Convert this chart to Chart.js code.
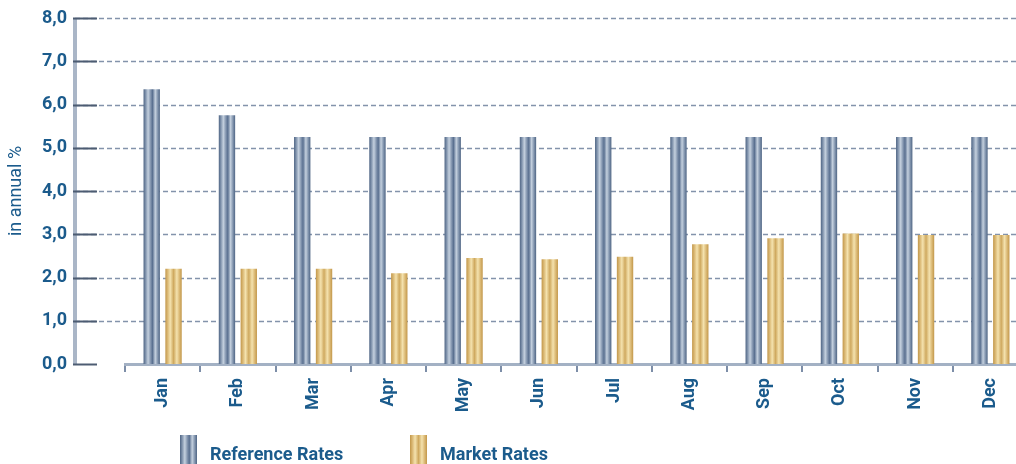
<!DOCTYPE html>
<html>
<head>
<meta charset="utf-8">
<script src="https://cdn.jsdelivr.net/npm/chart.js@4.4.1/dist/chart.umd.min.js"></script>
<style>
  html, body { margin: 0; padding: 0; background: #fff; overflow: hidden; }
  #wrap   { position: relative; width: 1028px; height: 464px; }
  .item   { position: absolute; top: 435px; display: flex; align-items: flex-start; white-space: nowrap;
            font: bold 18px Roboto, sans-serif; color: #1b5b8c; }
  .item canvas { display: block; }
  .item span   { margin-left: 13px; line-height: 22px; margin-top: 8px; }
</style>
</head>
<body>
<div id="wrap">
  <canvas id="rateChart"></canvas>
  <div class="item" style="left:180px"><canvas id="swRef" width="17" height="29"></canvas><span>Reference Rates</span></div>
  <div class="item" style="left:410px"><canvas id="swMkt" width="17" height="29"></canvas><span>Market Rates</span></div>
</div>
<script>
const MONTHS          = ['Jan', 'Feb', 'Mar', 'Apr', 'May', 'Jun', 'Jul', 'Aug', 'Sep', 'Oct', 'Nov', 'Dec'];
const REFERENCE_RATES = [6.35, 5.75, 5.25, 5.25, 5.25, 5.25, 5.25, 5.25, 5.25, 5.25, 5.25, 5.25];
const MARKET_RATES    = [2.20, 2.20, 2.20, 2.10, 2.45, 2.42, 2.48, 2.77, 2.91, 3.02, 2.98, 2.98];
const Y_TICK_LABELS   = ['0,0', '1,0', '2,0', '3,0', '4,0', '5,0', '6,0', '7,0', '8,0'];

const TEXT_COLOR = '#1b5b8c';
const BLUE_STOPS = [[0, '#4f6584'], [0.12, '#7d90aa'], [0.28, '#c4d0de'], [0.45, '#7c8faa'],
                    [0.55, '#5a7090'], [0.72, '#c4d0de'], [0.88, '#7d90aa'], [1, '#4f6584']];
const GOLD_STOPS = [[0, '#c2974a'], [0.15, '#dcbb78'], [0.3, '#f4e2ae'], [0.5, '#cfa95f'],
                    [0.7, '#f4e2ae'], [0.85, '#dcbb78'], [1, '#c2974a']];

/** horizontal "cylinder" gradient across a bar */
function barFill(ctx, x0, x1, stops) {
  const g = ctx.createLinearGradient(x0, 0, x1, 0);
  stops.forEach(([o, c]) => g.addColorStop(o, c));
  return g;
}

/* legend swatches */
[['swRef', BLUE_STOPS], ['swMkt', GOLD_STOPS]].forEach(([id, stops]) => {
  const c = document.getElementById(id).getContext('2d');
  c.fillStyle = barFill(c, 0, 17, stops);
  c.fillRect(0, 0, 17, 29);
});

/* y axis line, dashed grid and short dark ticks, drawn from left of the plot */
const axisDecor = {
  id: 'axisDecor',
  beforeDatasetsDraw(chart) {
    const { ctx, chartArea } = chart;
    const y     = chart.scales.y;
    const axisX = chartArea.left - 50;
    ctx.save();
    ctx.strokeStyle = '#aab6c7';
    ctx.lineWidth   = 4;
    ctx.beginPath();
    ctx.moveTo(axisX, y.top);
    ctx.lineTo(axisX, y.bottom);
    ctx.stroke();

    y.ticks.forEach((t) => {
      const py = Math.round(y.getPixelForValue(t.value)) + 0.5;
      if (t.value > 0) {
        ctx.strokeStyle = '#8393ab';
        ctx.lineWidth   = 1.5;
        ctx.setLineDash([5, 3]);
        ctx.beginPath();
        ctx.moveTo(axisX, py);
        ctx.lineTo(chartArea.right, py);
        ctx.stroke();
      }
      ctx.setLineDash([]);
      ctx.strokeStyle = '#4d5c72';
      ctx.lineWidth   = 2;
      ctx.beginPath();
      ctx.moveTo(axisX - 2, py);
      ctx.lineTo(axisX + 22, py);
      ctx.stroke();
    });
    ctx.restore();
  },
};

/* give each bar its striped gradient, based on where the library placed it */
const barShading = {
  id: 'barShading',
  beforeDatasetsDraw(chart) {
    const ctx = chart.ctx;
    chart.data.datasets.forEach((ds, i) => {
      const stops = i === 0 ? BLUE_STOPS : GOLD_STOPS;
      chart.getDatasetMeta(i).data.forEach((el) => {
        const x0 = el.x - el.width / 2;
        el.options = Object.assign({}, el.options, {
          backgroundColor: barFill(ctx, x0, x0 + el.width, stops),
        });
      });
    });
  },
};

const tickFont = { family: 'Roboto', size: 18, weight: 'bold' };

new Chart(document.getElementById('rateChart'), {
  type: 'bar',
  data: {
    labels: MONTHS,
    datasets: [
      { label: 'Reference Rates', data: REFERENCE_RATES, backgroundColor: '#8a9bb3' },
      { label: 'Market Rates',    data: MARKET_RATES,    backgroundColor: '#e0c485' },
    ],
  },
  options: {
    responsive:          true,
    maintainAspectRatio: false,
    animation:           false,
    layout:   { padding: { top: 18, left: 0, right: 0, bottom: 0 } },
    datasets: { bar: { barPercentage: 0.75, categoryPercentage: 0.58, borderWidth: 0 } },
    plugins: {
      legend:  { display: false },
      tooltip: { enabled: false },
    },
    scales: {
      x: {
        grid:   { drawOnChartArea: false, drawTicks: true, tickLength: 8, color: '#7d8ea8', lineWidth: 2, offset: true },
        border: { display: true, color: '#a3b1c4', width: 3 },
        ticks:  { color: TEXT_COLOR, font: tickFont, minRotation: 90, maxRotation: 90, padding: 6, autoSkip: false },
        afterFit: (s) => { s.height = 100; },
      },
      y: {
        min: 0,
        max: 8,
        grid:   { display: false, drawTicks: false, tickLength: 0 },
        border: { display: false },
        ticks:  {
          stepSize: 1,
          padding:  58,
          color:    TEXT_COLOR,
          font:     tickFont,
          callback: (v) => Y_TICK_LABELS[v],
        },
        title: {
          display: true,
          text:    'in annual %',
          color:   TEXT_COLOR,
          font:    { family: 'Roboto', size: 18 },
          padding: { top: 6, bottom: 0 },
        },
        afterFit: (s) => { s.width = 125; s.paddingTop = 0; s.paddingBottom = 0; },
      },
    },
  },
  plugins: [axisDecor, barShading],
});
</script>
</body>
</html>
